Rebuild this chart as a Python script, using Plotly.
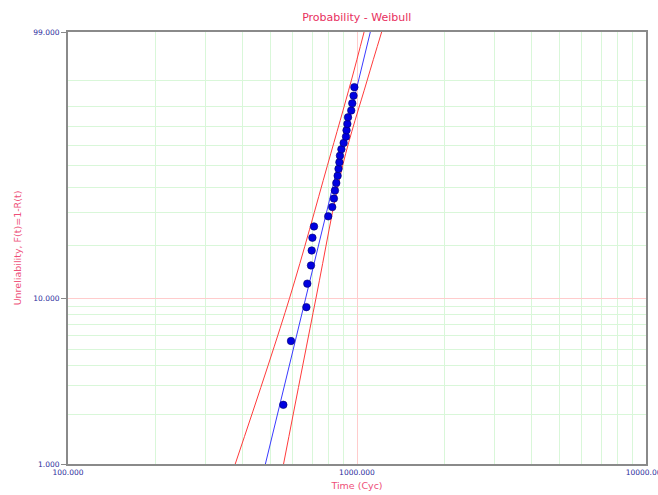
import numpy as np
import plotly.graph_objects as go

# Failure times (cycles)
times = [556, 591, 668, 673, 693, 697, 701, 710, 795, 821, 832, 839, 848, 857,
         863, 869, 873, 883, 899, 916, 920, 926, 931, 955, 963, 973, 979]
# Unreliability (%) of each point
unrel = [2.30, 5.59, 8.88, 12.17, 15.46, 18.75, 22.04, 25.33, 28.62, 31.91,
         35.20, 38.49, 41.78, 45.07, 48.36, 51.64, 54.93, 58.22, 61.51, 64.80,
         68.09, 71.38, 74.67, 77.96, 81.25, 84.54, 87.83]

# Fitted line (blue) end points
fit_F = [1, 99]
fit_t = [482, 1112]

# Confidence bounds (red)
bound_F = [1, 10, 50, 90, 99]
lower_t = [379, 584, 790, 955, 1058]
upper_t = [557, 721, 892, 1083, 1217]

# Axis ticks
y_major = [1, 10, 99]
y_major_text = ["1.000", "10.000", "99.000"]
y_minor = [2, 3, 4, 5, 6, 7, 8, 9, 20, 30, 40, 50, 60, 70, 80, 90]
x_major = [100, 1000, 10000]
x_major_text = ["100.000", "1000.000", "10000.000"]
x_minor = [200, 300, 400, 500, 600, 700, 800, 900,
           2000, 3000, 4000, 5000, 6000, 7000, 8000, 9000]


def wb(F):
    F = np.asarray(F, dtype=float) / 100.0
    return np.log(-np.log(1.0 - F))


RED_LINE = "#ff3b3b"
BLUE_LINE = "#3a3aff"
TICK_COL = "#2b2b9c"
TITLE_COL = "#e8305e"
AXT_COL = "#ee4f78"

fig = go.Figure()
fig.add_trace(go.Scatter(x=lower_t, y=wb(bound_F), mode="lines", line=dict(color=RED_LINE, width=1, shape="spline"),
                         hoverinfo="skip", showlegend=False))
fig.add_trace(go.Scatter(x=upper_t, y=wb(bound_F), mode="lines", line=dict(color=RED_LINE, width=1, shape="spline"),
                         hoverinfo="skip", showlegend=False))
fig.add_trace(go.Scatter(x=fit_t, y=wb(fit_F), mode="lines", line=dict(color=BLUE_LINE, width=1),
                         hoverinfo="skip", showlegend=False))
fig.add_trace(go.Scatter(x=times, y=wb(unrel), mode="markers",
                         marker=dict(color="#0000e0", size=7.5, line=dict(color="#00006a", width=0.6)),
                         showlegend=False))

fig.update_layout(
    width=658, height=495,
    margin=dict(l=68, r=12, t=32, b=31),
    paper_bgcolor="white", plot_bgcolor="white",
    font=dict(family="DejaVu Sans", color=TICK_COL),
    title=dict(text="Probability - Weibull", x=0.5422, xanchor="center", y=0.965, yanchor="middle",
               font=dict(family="DejaVu Sans", size=11, color=TITLE_COL)),
)

fig.update_xaxes(
    type="log", range=[2, 4], automargin=False,
    tickmode="array", tickvals=x_major, ticktext=x_major_text,
    tickfont=dict(family="DejaVu Sans", size=7.5, color=TICK_COL),
    ticklabeloverflow="allow",
    ticks="outside", ticklen=0, showgrid=True, gridcolor="#ffcccc", gridwidth=1,
    minor=dict(tickmode="array", tickvals=x_minor, showgrid=True, gridcolor="#d9f7d9", gridwidth=1, ticks=""),
    showline=True, linecolor="#8a8a8a", linewidth=2, mirror=True, zeroline=False,
    title=dict(text="Time (Cyc)", font=dict(family="DejaVu Sans", size=9.5, color=AXT_COL), standoff=6),
)

fig.update_yaxes(
    range=[float(wb(1)), float(wb(99))], automargin=False,
    tickmode="array", tickvals=wb(y_major), ticktext=y_major_text,
    tickfont=dict(family="DejaVu Sans", size=7.5, color=TICK_COL),
    ticks="outside", ticklen=5, tickcolor="#8a8a8a",
    showgrid=True, gridcolor="#ffcccc", gridwidth=1,
    minor=dict(tickmode="array", tickvals=wb(y_minor), showgrid=True, gridcolor="#d9f7d9", gridwidth=1, ticks=""),
    showline=True, linecolor="#8a8a8a", linewidth=2, mirror=True, zeroline=False,
    title=dict(text="Unreliability, F(t)=1-R(t)", font=dict(family="DejaVu Sans", size=9.5, color=AXT_COL), standoff=10),
)

fig.write_html("out.html")
